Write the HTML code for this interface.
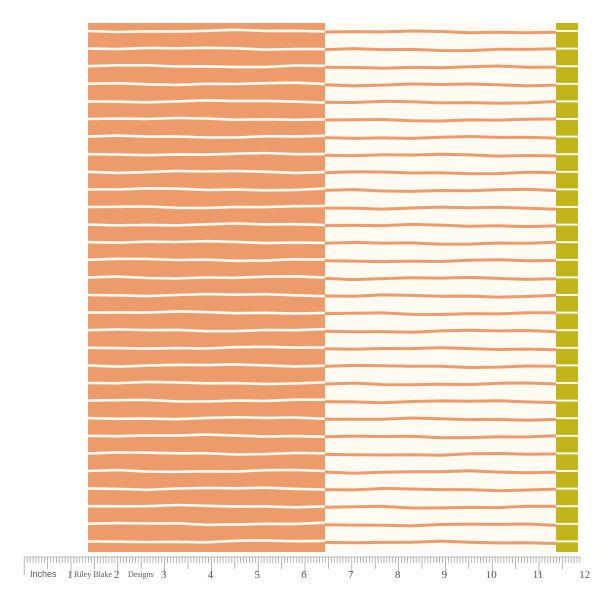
<!DOCTYPE html>
<html><head><meta charset="utf-8"><style>
html,body{margin:0;padding:0;background:#fff;width:614px;height:597px;overflow:hidden}
svg{display:block}
text{font-family:"Liberation Serif",serif;fill:#555}
</style></head><body>
<svg id="s" width="614" height="597">
<rect x="88" y="23" width="237" height="529" fill="#ee9b6c"/>
<rect x="325" y="23" width="231" height="529" fill="#fdfbf2"/>
<rect x="556" y="23" width="22" height="529" fill="#c3b41c"/>
<g id="stripes"></g>
<g id="ruler">
<rect x="24" y="552" width="556" height="28" fill="#fff"/>
<line x1="24" y1="557" x2="580" y2="557" stroke="#bbb" stroke-width="1"/>
</g>
</svg>
<script>
const NS='http://www.w3.org/2000/svg';
const g=document.getElementById('stripes');
const r=document.getElementById('ruler');
function wob(i,k){return Math.sin(i*1.7+k*0.9)*0.8+Math.sin(i*0.6+k*2.3)*0.5;}
for(let i=0;i<30;i++){
  const y=31+i*17.6;
  let d='M88 '+y;
  for(let k=1;k<=8;k++){d+=' L'+(88+k*29.6)+' '+(y+wob(i,k)).toFixed(1);}
  const p=document.createElementNS(NS,'path');
  p.setAttribute('d',d);p.setAttribute('stroke','#fdfbf2');p.setAttribute('stroke-width','2.6');p.setAttribute('fill','none');
  
  
  g.appendChild(p);
  let d2='M325 '+(y+1);
  for(let k=1;k<=8;k++){d2+=' L'+(325+k*28.9)+' '+(y+1+wob(i+5,k)).toFixed(1);}
  const q=document.createElementNS(NS,'path');
  q.setAttribute('d',d2);q.setAttribute('stroke','#ee9b6c');q.setAttribute('stroke-width','3');q.setAttribute('fill','none');
  
  
  g.appendChild(q);
  const w=document.createElementNS(NS,'rect');
  w.setAttribute('x',556);w.setAttribute('y',y-1);w.setAttribute('width',22);w.setAttribute('height',2);w.setAttribute('fill','#fdfbf2');
  
  
  g.appendChild(w);
}
const inch=46.8, x1=71;
for(let t=0;t<=11*16+14*1;t++){
  const x=x1-46.8+t*inch/16;
  if(x<24||x>580)continue;
  const major=t%16===0, half=t%8===0;
  const l=document.createElementNS(NS,'line');
  l.setAttribute('x1',x);l.setAttribute('x2',x);l.setAttribute('y1',557);
  l.setAttribute('y2',major?575:half?569:563);
  l.setAttribute('stroke','#999');l.setAttribute('stroke-width','0.7');
  
  
  r.appendChild(l);
}
const labels=['1','2','3','4','5','6','7','8','9','10','11','12'];
labels.forEach((s,i)=>{
  const t=document.createElementNS(NS,'text');
  t.setAttribute('x',x1+i*inch-1);t.setAttribute('y',578);t.setAttribute('font-size','11');t.setAttribute('text-anchor','middle');
  t.textContent=s;
  
  
  r.appendChild(t);
});
[['Inches',30,9,'"Liberation Sans",sans-serif'],['Riley Blake',74,8,null],['Designs',128,8,null]].forEach(a=>{
  const t=document.createElementNS(NS,'text');
  t.setAttribute('x',a[1]);t.setAttribute('y',577);t.setAttribute('font-size',a[2]);
  if(a[3])t.setAttribute('style','font-family:'+a[3]);
  t.textContent=a[0];
  
  
  r.appendChild(t);
});
</script>
</body></html>
